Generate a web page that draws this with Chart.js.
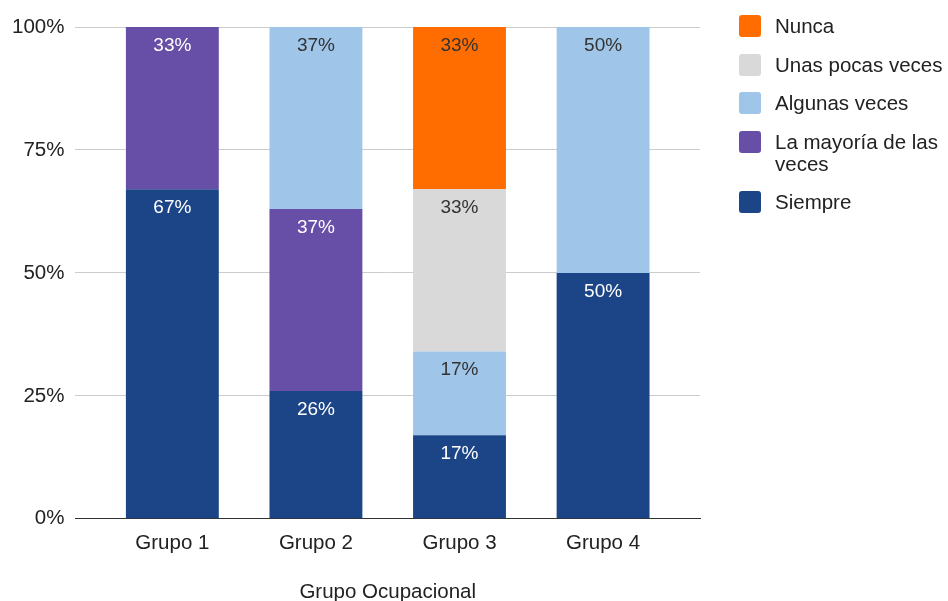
<!DOCTYPE html>
<html>
<head>
<meta charset="utf-8">
<script src="https://cdn.jsdelivr.net/npm/chart.js@4.4.1/dist/chart.umd.min.js"></script>
<style>
    html, body { margin: 0; padding: 0; background: #fff; }
    #wrap { position: relative; width: 948px; height: 601px; }
    #legend { position: absolute; left: 739px; top: 15px; font-family: "Liberation Sans", Arial, sans-serif; font-size: 20.5px; color: #222; }
    #legend .item { display: flex; align-items: flex-start; margin-bottom: 16.5px; line-height: 22px; }
    #legend .box { width: 22px; height: 22px; border-radius: 3px; margin-right: 14px; flex: none; }
    #legend .txt { width: 175px; }
</style>
</head>
<body>
<div id="wrap">
    <canvas id="grupoChart" width="948" height="601"></canvas>
    <div id="legend"></div>
</div>
<script>
const grupos = ["Grupo 1", "Grupo 2", "Grupo 3", "Grupo 4"];
const yTicks = [0, 25, 50, 75, 100];

// percent of answers per group, bottom to top of each stack
const siempre = [67, 26, 17, 50];
const mayoria = [33, 37, 0, 0];
const algunas = [0, 37, 17, 50];
const pocas = [0, 0, 33, 0];
const nunca = [0, 0, 33, 0];

const series = [
    { label: "Siempre", values: siempre, color: "#1c4587", text: "#ffffff" },
    { label: "La mayoría de las veces", values: mayoria, color: "#674ea7", text: "#ffffff" },
    { label: "Algunas veces", values: algunas, color: "#9fc5e8", text: "#333333" },
    { label: "Unas pocas veces", values: pocas, color: "#d9d9d9", text: "#333333" },
    { label: "Nunca", values: nunca, color: "#ff6d01", text: "#333333" }
];

const FONT = "'Liberation Sans', Arial, sans-serif";

// prints the value near the top of each segment
const segmentLabels = {
    id: "segmentLabels",
    afterDatasetsDraw(chart) {
        const ctx = chart.ctx;
        ctx.save();
        ctx.font = "19px " + FONT;
        ctx.textAlign = "center";
        ctx.textBaseline = "middle";
        chart.data.datasets.forEach((ds, di) => {
            chart.getDatasetMeta(di).data.forEach((bar, i) => {
                const v = ds.data[i].y;
                if (!v) return;
                ctx.fillStyle = series[di].text;
                ctx.fillText(v + "%", bar.x, bar.y + 18.5);
            });
        });
        ctx.restore();
    }
};

// legend drawn as html so the long label can wrap
const htmlLegend = {
    id: "htmlLegend",
    afterUpdate(chart) {
        const box = document.getElementById("legend");
        box.innerHTML = "";
        const items = chart.options.plugins.legend.labels.generateLabels(chart).reverse();
        items.forEach(it => {
            const row = document.createElement("div");
            row.className = "item";
            const sw = document.createElement("div");
            sw.className = "box";
            sw.style.background = it.fillStyle;
            const t = document.createElement("div");
            t.className = "txt";
            t.textContent = it.text;
            row.appendChild(sw);
            row.appendChild(t);
            box.appendChild(row);
        });
    }
};

new Chart(document.getElementById("grupoChart"), {
    type: "bar",
    data: {
        datasets: series.map(s => ({
            label: s.label,
            data: s.values.map((v, i) => ({ x: i, y: v })),
            backgroundColor: s.color,
            borderWidth: 0,
            categoryPercentage: 1,
            barPercentage: 0.647
        }))
    },
    options: {
        responsive: false,
        animation: false,
        layout: { padding: { left: 1, right: 248, top: 27, bottom: 0 } },
        plugins: {
            legend: { display: false },
            tooltip: { enabled: false }
        },
        scales: {
            x: {
                type: "linear",
                stacked: true,
                offset: false,
                min: -0.675,
                max: 3.675,
                afterBuildTicks(scale) {
                    scale.ticks = grupos.map((g, i) => ({ value: i }));
                },
                grid: { display: false, drawTicks: false },
                border: { display: true, color: "#333333", width: 1 },
                ticks: {
                    color: "#222",
                    font: { family: FONT, size: 20.5 },
                    padding: 12,
                    autoSkip: false,
                    maxRotation: 0,
                    callback: v => grupos[v]
                },
                title: {
                    display: true,
                    text: "Grupo Ocupacional",
                    color: "#222",
                    font: { family: FONT, size: 20.5 },
                    padding: { top: 13, bottom: -4 }
                }
            },
            y: {
                stacked: true,
                min: 0,
                max: 100,
                afterBuildTicks(scale) {
                    scale.ticks = yTicks.map(v => ({ value: v }));
                },
                grid: { color: "#cccccc", drawTicks: false },
                border: { display: false },
                ticks: {
                    color: "#222",
                    font: { family: FONT, size: 20.5 },
                    padding: 11,
                    callback: v => v + "%"
                }
            }
        }
    },
    plugins: [segmentLabels, htmlLegend]
});
</script>
</body>
</html>
